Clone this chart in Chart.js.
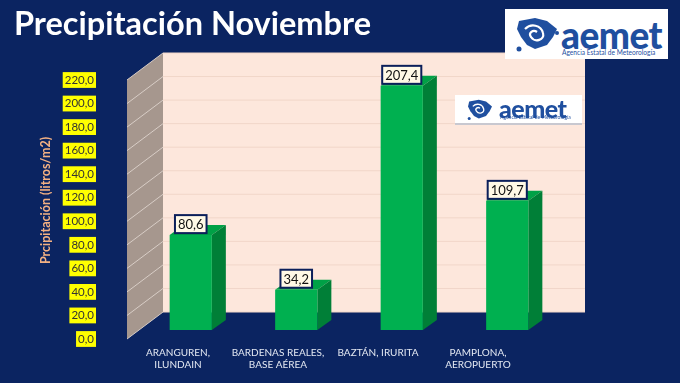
<!DOCTYPE html>
<html>
<head>
<meta charset="utf-8">
<script src="https://cdn.jsdelivr.net/npm/chart.js@4.4.1/dist/chart.umd.min.js"></script>
<style>
  html, body { margin: 0; padding: 0; background: #0b2461; }
  #wrap { position: relative; width: 680px; height: 383px; overflow: hidden; }
  canvas { position: absolute; left: 0; top: 0; }
  .logo { position: absolute; background: #fff; font-family: Lato, sans-serif; color: #1f4f9f; }
  .logo .name { position: absolute; font-weight: 900; letter-spacing: -0.5px; line-height: 1; }
  .logo .sub { position: absolute; white-space: nowrap; line-height: 1; }
  .logo svg { position: absolute; }
</style>
</head>
<body>
<div id="wrap">
  <canvas id="chart" width="680" height="383"></canvas>
  <div class="logo" style="left:505px; top:9px; width:163px; height:50px;">
    <svg style="left:8px; top:6px;" width="48" height="40" viewBox="0 0 48 40">
      <path d="M6 6 L22 3 L34 6 L44 14 L40 22 L34 30 L22 34 L14 30 L8 22 L4 14 Z" fill="#1f4f9f"/>
      <path d="M12 14 C18 8 28 10 30 18 C32 25 22 28 18 22 C15 18 20 14 24 17" fill="none" stroke="#fff" stroke-width="2.2"/>
      <circle cx="6" cy="34" r="2.5" fill="#1f4f9f"/>
      <circle cx="44" cy="18" r="2" fill="#1f4f9f"/>
    </svg>
    <div class="name" style="left:56px; top:7px; font-size:37px;">aemet</div>
    <div class="sub" style="left:57px; top:40px; font-size:6.6px;">Agencia Estatal de Meteorología</div>
  </div>
  <div class="logo" style="left:455px; top:95px; width:127px; height:28px; box-shadow: 0 2px 0 #c8c8d0;">
    <svg style="left:8px; top:3px;" width="34" height="24" viewBox="0 0 48 40">
      <path d="M6 6 L22 3 L34 6 L44 14 L40 22 L34 30 L22 34 L14 30 L8 22 L4 14 Z" fill="#1f4f9f"/>
      <path d="M12 14 C18 8 28 10 30 18 C32 25 22 28 18 22 C15 18 20 14 24 17" fill="none" stroke="#fff" stroke-width="2.2"/>
      <circle cx="6" cy="34" r="2.5" fill="#1f4f9f"/>
    </svg>
    <div class="name" style="left:44px; top:1px; font-size:25px;">aemet</div>
    <div class="sub" style="left:45px; top:20px; font-size:5px;">Agencia Estatal de Meteorología</div>
  </div>
</div>
<script>
// data
const categories = [
  ['ARANGUREN,', 'ILUNDAIN'],
  ['BARDENAS REALES,', 'BASE AÉREA'],
  'BAZTÁN, IRURITA',
  ['PAMPLONA,', 'AEROPUERTO']
];
const precipitation = [80.6, 34.2, 207.4, 109.7];
const yTickValues = [0, 20, 40, 60, 80, 100, 120, 140, 160, 180, 200, 220];

// 3D look: offsets of the back wall / front edge / bar depth from the bar plane
const BACK = { dx: 25, dy: -18 };
const FRONT = { dx: -11, dy: 9 };
const DEPTH = { dx: 14, dy: -10 };

const fmt = v => v.toFixed(1).replace('.', ',');

function poly(ctx, pts, fill) {
  ctx.beginPath();
  ctx.moveTo(pts[0][0], pts[0][1]);
  for (let i = 1; i < pts.length; i++) ctx.lineTo(pts[i][0], pts[i][1]);
  ctx.closePath();
  ctx.fillStyle = fill;
  ctx.fill();
}

// walls + side/top faces of the bars
const walls3d = {
  id: 'walls3d',
  beforeDatasetsDraw(chart) {
    const { ctx, chartArea: a, scales: { y } } = chart;
    const yTop = y.getPixelForValue(yTickValues[yTickValues.length - 1]);
    const yBot = y.getPixelForValue(0);
    ctx.save();
    // back wall
    poly(ctx, [
      [a.left + BACK.dx, yTop + BACK.dy], [a.right + BACK.dx, yTop + BACK.dy],
      [a.right + BACK.dx, yBot + BACK.dy], [a.left + BACK.dx, yBot + BACK.dy]
    ], '#fde7dc');
    // side wall
    poly(ctx, [
      [a.left + BACK.dx, yTop + BACK.dy], [a.left + BACK.dx, yBot + BACK.dy],
      [a.left + FRONT.dx, yBot + FRONT.dy], [a.left + FRONT.dx, yTop + FRONT.dy]
    ], '#a6978e');
    ctx.lineWidth = 1;
    yTickValues.forEach(v => {
      const py = y.getPixelForValue(v);
      ctx.strokeStyle = '#f1d6c9';
      ctx.beginPath();
      ctx.moveTo(a.left + BACK.dx, py + BACK.dy);
      ctx.lineTo(a.right + BACK.dx, py + BACK.dy);
      ctx.stroke();
      ctx.strokeStyle = '#d8cdc6';
      ctx.beginPath();
      ctx.moveTo(a.left + FRONT.dx, py + FRONT.dy);
      ctx.lineTo(a.left + BACK.dx, py + BACK.dy);
      ctx.stroke();
    });
    // bar tops and sides
    chart.getDatasetMeta(0).data.forEach(bar => {
      const l = bar.x - bar.width / 2, r = bar.x + bar.width / 2;
      poly(ctx, [[l, bar.y], [l + DEPTH.dx, bar.y + DEPTH.dy], [r + DEPTH.dx, bar.y + DEPTH.dy], [r, bar.y]], '#00a146');
      poly(ctx, [[r, bar.y], [r + DEPTH.dx, bar.y + DEPTH.dy], [r + DEPTH.dx, bar.base + DEPTH.dy], [r, bar.base]], '#007f37');
    });
    ctx.restore();
  },
  afterDatasetsDraw(chart) {
    const { ctx } = chart;
    ctx.save();
    ctx.font = '13px Lato';
    ctx.textAlign = 'center';
    ctx.textBaseline = 'middle';
    chart.getDatasetMeta(0).data.forEach((bar, i) => {
      const txt = fmt(precipitation[i]);
      const w = ctx.measureText(txt).width + 6, h = 18;
      const bx = bar.x - w / 2, by = bar.y - 2 - h;
      ctx.fillStyle = '#fff9e6';
      ctx.fillRect(bx, by, w, h);
      ctx.strokeStyle = '#0b1f5a';
      ctx.lineWidth = 2;
      ctx.strokeRect(bx, by, w, h);
      ctx.fillStyle = '#111';
      ctx.fillText(txt, bar.x, by + h / 2 + 1);
    });
    ctx.restore();
  },
  // labels sit on the front edge of the floor, slightly compressed by perspective
  afterLayout(chart) {
    const s = chart.scales.xl, a = chart.chartArea;
    s.left = a.left - 10;
    s.right = a.right - 32;
    s.width = s.right - s.left;
    s.configure();
  }
};

new Chart(document.getElementById('chart'), {
  type: 'bar',
  data: {
    labels: categories,
    datasets: [{
      data: precipitation,
      backgroundColor: '#00b050',
      borderWidth: 0,
      barPercentage: 0.4,
      categoryPercentage: 1
    }]
  },
  options: {
    responsive: false,
    animation: false,
    layout: { padding: { left: 14, right: 120, top: 0, bottom: 0 } },
    plugins: {
      legend: { display: false },
      tooltip: { enabled: false },
      title: {
        display: true,
        text: 'Precipitación Noviembre',
        align: 'start',
        color: '#ffffff',
        font: { family: 'Lato', size: 32.5, weight: 'bold' },
        padding: { top: 5, bottom: 27 }
      }
    },
    scales: {
      x: { display: false },
      xl: {
        type: 'category',
        position: 'bottom',
        grid: { display: false, drawTicks: false },
        border: { display: false },
        ticks: {
          color: '#e3e8f2',
          font: { family: 'Lato', size: 10 },
          padding: 17,
          maxRotation: 0,
          autoSkip: false
        },
        afterFit(s) { s.height = 53; }
      },
      y: {
        min: 0,
        max: 220,
        grid: { display: false, drawTicks: false },
        border: { display: false },
        afterBuildTicks(s) { s.ticks = yTickValues.map(v => ({ value: v })); },
        ticks: {
          callback: v => fmt(v),
          color: '#333333',
          font: { family: 'Lato', size: 11.5 },
          padding: 44,
          labelOffset: 9,
          showLabelBackdrop: true,
          backdropColor: '#ffff00',
          backdropPadding: { x: 2, y: 1 }
        },
        title: {
          display: true,
          text: 'Prcipitación (litros/m2)',
          color: '#f4b183',
          font: { family: 'Lato', size: 12.5, weight: 'bold' },
          padding: { top: 24, bottom: 0 }
        },
        afterFit(s) { s.width = 124; }
      }
    }
  },
  plugins: [walls3d]
});
</script>
</body>
</html>
